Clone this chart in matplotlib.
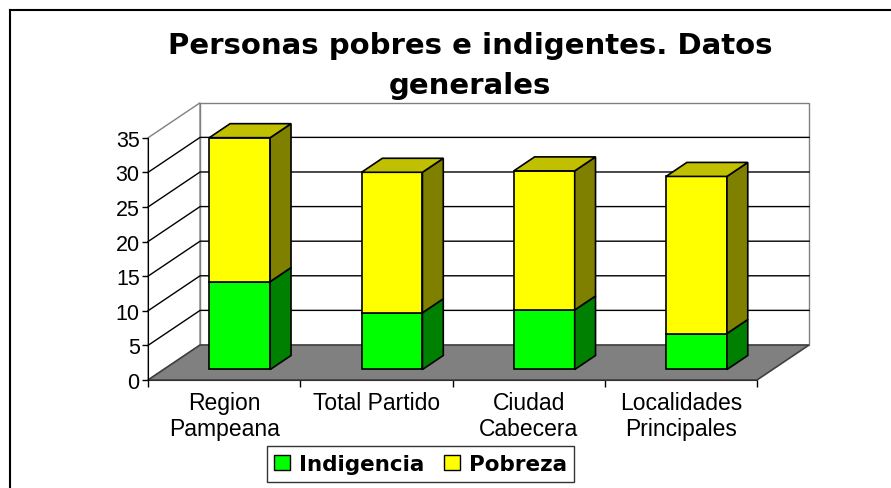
import matplotlib
matplotlib.use("Agg")
import matplotlib.pyplot as plt
from matplotlib.patches import Polygon, Patch
from matplotlib.lines import Line2D
import numpy as np

categories = ["Region\nPampeana", "Total Partido", "Ciudad\nCabecera", "Localidades\nPrincipales"]
indigencia = [12.7, 8.2, 8.6, 5.2]
pobreza = [20.8, 20.3, 20.1, 22.7]
yticks = [0, 5, 10, 15, 20, 25, 30, 35]
series_names = ["Indigencia", "Pobreza"]

# oblique projection: full depth of the plot moves this far in x and y (data units)
DX, DY = 0.342, 5.06
BAR_W = 0.4
D0, D1 = 0.3, 0.7          # front / back depth of the bars
YMAX = 35

fronts = {"Indigencia": "#00FF00", "Pobreza": "#FFFF00"}
sides = {"Indigencia": "#008000", "Pobreza": "#808000"}
tops = {"Indigencia": "#00C000", "Pobreza": "#C0C000"}

plt.rcParams["font.family"] = ["Liberation Sans", "DejaVu Sans"]

fig = plt.figure(figsize=(8.91, 4.89), dpi=100)
W, H = 891, 489
ax = fig.add_axes([148 / W, (H - 381) / H, 609 / W, 242.2 / H])
ax.set_xlim(-0.5, 3.5)
ax.set_ylim(0, YMAX)

# walls
bx = -0.5 + DX
left_wall = Polygon([(-0.5, 0), (-0.5, YMAX), (bx, YMAX + DY), (bx, DY)],
                    facecolor="white", edgecolor="#808080", lw=1, clip_on=False, zorder=1)
back_wall = Polygon([(bx, DY), (bx, YMAX + DY), (3.5 + DX, YMAX + DY), (3.5 + DX, DY)],
                    facecolor="white", edgecolor="#808080", lw=1, clip_on=False, zorder=1)
ax.add_patch(left_wall)
ax.add_patch(back_wall)
for v in yticks[1:-1]:
    ax.plot([-0.5, bx, 3.5 + DX], [v, v + DY, v + DY], color="black", lw=1,
            clip_on=False, zorder=1.5)

# floor
floor = Polygon([(-0.5, 0), (3.5, 0), (3.5 + DX, DY), (bx, DY)],
                facecolor="#808080", edgecolor="#404040", lw=1.2, clip_on=False, zorder=2)
ax.add_patch(floor)

x = np.arange(len(categories))
xf = x + D0 * DX
base = D0 * DY
ddx, ddy = (D1 - D0) * DX, (D1 - D0) * DY

bottom = np.full(len(categories), base)
for k, (name, vals) in enumerate(zip(series_names, [indigencia, pobreza])):
    vals = np.asarray(vals)
    ax.bar(xf, vals, width=BAR_W, bottom=bottom, color=fronts[name],
           edgecolor="black", lw=1.2, clip_on=False, zorder=3, label=name)
    for xi, b, v in zip(xf, bottom, vals):
        xr = xi + BAR_W / 2
        xl = xi - BAR_W / 2
        t = b + v
        ax.add_patch(Polygon([(xr, b), (xr + ddx, b + ddy), (xr + ddx, t + ddy), (xr, t)],
                             facecolor=sides[name], edgecolor="black", lw=1.2,
                             clip_on=False, zorder=3))
        # only the top segment of the stack shows its lid
        if k == len(series_names) - 1:
            ax.add_patch(Polygon([(xl, t), (xr, t), (xr + ddx, t + ddy), (xl + ddx, t + ddy)],
                                 facecolor=tops[name], edgecolor="black", lw=1.2,
                                 clip_on=False, zorder=3.1))
    bottom = bottom + vals

# axes
for s in ["top", "right"]:
    ax.spines[s].set_visible(False)
ax.spines["left"].set_color("black")
ax.spines["bottom"].set_color("#303030")
ax.spines["left"].set_zorder(4)
ax.set_facecolor("none")

ax.set_yticks(yticks)
ax.set_yticklabels([str(v) for v in yticks], fontsize=15.5)
ax.tick_params(axis="y", direction="out", length=4, width=1, pad=2)

ax.set_xticks([-0.5, 0.5, 1.5, 2.5, 3.5])
ax.set_xticklabels([])
ax.tick_params(axis="x", which="major", direction="out", length=5, width=1)
ax.set_xticks(x, minor=True)
ax.set_xticklabels(categories, minor=True, fontsize=16.5, linespacing=1.15)
ax.tick_params(axis="x", which="minor", length=0, pad=8)

# title
fig.text(470 / W, 1 - 66 / H, "Personas pobres e indigentes. Datos\ngenerales",
         ha="center", va="center", fontsize=21, fontweight="bold",
         family="DejaVu Sans", linespacing=1.5)

# legend
handles = [Patch(facecolor=fronts[n], edgecolor="black", lw=1) for n in series_names]
leg = fig.legend(handles, series_names, loc="center", bbox_to_anchor=(420.5 / W, 1 - 465 / H),
                 ncol=2, frameon=True, fancybox=False, edgecolor="black",
                 handlelength=0.75, handleheight=0.75, handletextpad=0.4, columnspacing=0.9,
                 borderpad=0.35, prop={"family": "DejaVu Sans", "weight": "bold", "size": 15.5})
leg.get_frame().set_linewidth(1)

# outer chart border
fig.add_artist(Line2D([10 / W, 10 / W], [0, 1 - 11 / H], color="black", lw=1.5,
                      transform=fig.transFigure))
fig.add_artist(Line2D([10 / W, 1], [1 - 11 / H, 1 - 11 / H], color="black", lw=1.5,
                      transform=fig.transFigure))

fig.savefig("out.png", dpi=100)
